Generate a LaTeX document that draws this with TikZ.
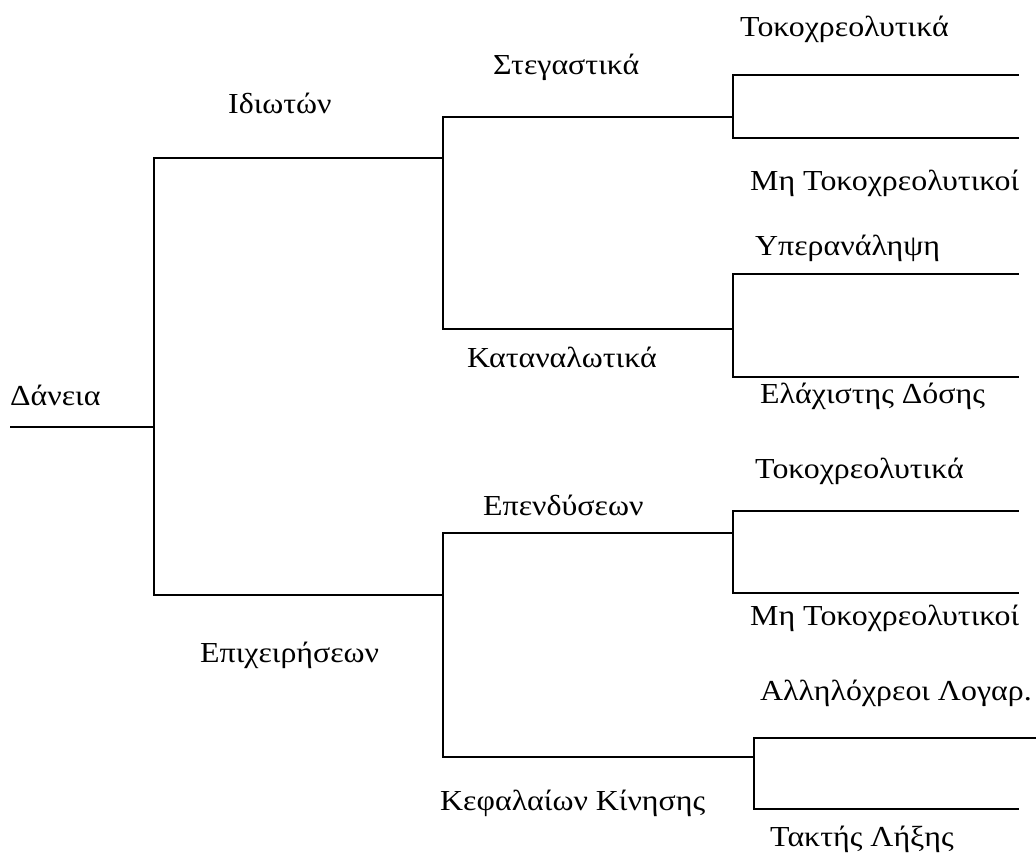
\documentclass[tikz,border=0pt]{standalone}
\usepackage{fontspec}
\setmainfont{Liberation Serif}
\usepackage{tikz}
\usetikzlibrary{positioning}
\definecolor{ink}{HTML}{000000}

\begin{document}
\begin{tikzpicture}[x=1pt,y=-1pt,font=\fontsize{29}{34}\selectfont,
  branch/.style={draw=ink,line width=1.6pt},
  lbl/.style={anchor=base west,inner sep=0pt,text=ink}]
  \useasboundingbox (0,0) rectangle (1036,854);
  \foreach \n/\x/\y in {r/10/427, dan/154/427, idi/443/158, epi/443/595,
    ste/733/117, kat/733/329, epe/733/533, kef/754/757,
    st1/1019/75, st2/1019/138, ka1/1019/274, ka2/1019/377,
    ep1/1019/511, ep2/1019/593, ke1/1036/738, ke2/1019/809}
    \coordinate (\n) at (\x,\y);
  \draw[branch] (r) -- (dan);
  \foreach \a/\b in {dan/idi, dan/epi, idi/ste, idi/kat, epi/epe, epi/kef,
    ste/st1, ste/st2, kat/ka1, kat/ka2, epe/ep1, epe/ep2, kef/ke1, kef/ke2}
    \draw[branch] (\a) |- (\b);
  \foreach \n/\x/\y/\t in {lDan/10/405/Δάνεια, lIdi/228/113/Ιδιωτών,
    lEpi/200/662/Επιχειρήσεων, lSte/493/74/Στεγαστικά,
    lKat/467/367/Καταναλωτικά, lEpe/483/515/Επενδύσεων,
    lKef/440/810/Κεφαλαίων Κίνησης, lSt1/740/36/Τοκοχρεολυτικά,
    lSt2/750/190/Μη Τοκοχρεολυτικοί, lKa1/755/255/Υπερανάληψη,
    lKa2/760/403/Ελάχιστης Δόσης, lEp1/755/478/Τοκοχρεολυτικά,
    lEp2/750/625/Μη Τοκοχρεολυτικοί, lKe1/760/700/Αλληλόχρεοι Λογαρ.,
    lKe2/770/846/Τακτής Λήξης}
    \node[lbl] (\n) at (\x,\y) {\scalebox{1.1}[1]{\t}};
\end{tikzpicture}
\end{document}
